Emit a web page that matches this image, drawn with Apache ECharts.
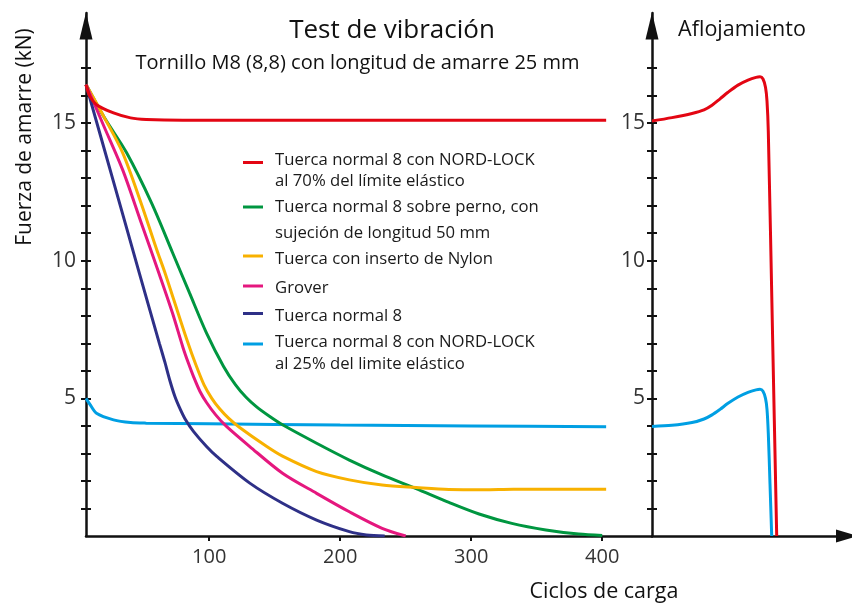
<!DOCTYPE html>
<html>
<head>
<meta charset="utf-8">
<script src="https://cdn.jsdelivr.net/npm/echarts@6/dist/echarts.min.js"></script>
<style>
html,body{margin:0;padding:0;background:#fff;}
#chart{width:852px;height:606px;}
</style>
</head>
<body>
<div id="chart"></div>
<script>
// ---- data ----
const yTickValues = [1,2,3,4,5,6,7,8,9,10,11,12,13,14,15,16,17];
const yLabelValues = [5,10,15];
const xTickValues = [100,200,300,400];

const seriesNames = [
  'Tuerca normal 8 con NORD-LOCK al 70% del límite elástico',
  'Tuerca normal 8 sobre perno, con sujeción de longitud 50 mm',
  'Tuerca con inserto de Nylon',
  'Grover',
  'Tuerca normal 8',
  'Tuerca normal 8 con NORD-LOCK al 25% del limite elástico'
];

// Test de vibración (x = ciclos de carga, y = kN)
const redVib = [[6,16.4],[9,15.97],[14,15.67],[27,15.37],[40,15.19],[52,15.13],[80,15.1],[150,15.1],[250,15.1],[350,15.1],[403,15.1]];
const greenVib = [[6,16.4],[20,15.2],[37,13.92],[56,12.1],[72,10.3],[85,8.83],[98,7.37],[111,6.16],[120,5.5],[128,5.05],[136,4.7],[146,4.35],[156,4.04],[182,3.37],[207,2.76],[232,2.22],[258,1.72],[283,1.22],[306,0.8],[331,0.46],[357,0.22],[382,0.07],[400,0.02]];
const yellowVib = [[6,16.4],[20,15.2],[34,13.92],[48,12.1],[60,10.4],[66,9.6],[73,8.58],[83,7.13],[90,6.2],[96,5.5],[102,5.0],[108,4.62],[115,4.27],[123,3.95],[144,3.25],[156,2.9],[182,2.34],[207,2.04],[232,1.85],[258,1.76],[283,1.69],[310,1.68],[332,1.7],[403,1.7]];
const pinkVib = [[6,16.4],[20,14.85],[34,13.3],[48,11.4],[62,9.5],[72,8.1],[80,6.85],[84,6.3],[88,5.8],[93,5.25],[98,4.85],[105,4.4],[113,3.99],[131,3.25],[156,2.28],[182,1.55],[207,0.88],[232,0.28],[250,0.0]];
const navyVib = [[6,16.4],[26,13.04],[46,9.67],[62,7.0],[66,6.35],[70,5.65],[74,5.05],[78,4.6],[82,4.22],[88,3.8],[98,3.25],[106,2.88],[131,1.92],[156,1.19],[182,0.58],[207,0.16],[220,0.04],[234,0.0]];
const cyanVib = [[6,5.0],[9,4.78],[14,4.46],[27,4.22],[40,4.12],[52,4.1],[100,4.08],[200,4.03],[300,4.0],[403,3.97]];

// Aflojamiento (x = relative progress, y = kN)
const redLoose = [[0,15.08],[20,15.2],[40,15.35],[52,15.48],[60,15.65],[68,15.88],[76,16.12],[86,16.38],[96,16.56],[104,16.66],[108,16.68],[111,16.6],[113.5,16.3],[115,15.8],[116.3,14.7],[120.5,7.4],[124.7,0]];
const cyanLoose = [[0,3.98],[20,4.02],[40,4.12],[52,4.25],[60,4.4],[68,4.6],[76,4.82],[86,5.05],[96,5.22],[104,5.31],[108,5.33],[111,5.26],[113.5,5.0],[115,4.6],[116.3,3.73],[118,1.9],[119.7,0]];

const colors = ['#e30613','#009640','#f8b100','#e5177e','#2e3087','#009fe3'];

// ---- chart ----
const chart = echarts.init(document.getElementById('chart'));
const FONT = '"Open Sans", "DejaVu Sans", sans-serif';
const AX = '#111';

function yAxisMain(grid, inside) {
  return {
    type:'value', gridIndex:grid, min:0, max:19, position:'left',
    splitLine:{show:false},
    axisLine:{show:!inside, lineStyle:{color:AX, width:2.5}, symbol:['none','triangle'], symbolSize:[13,27], symbolOffset:[0,-13]},
    axisTick:{show:true, inside:inside, length:5, customValues:yTickValues, lineStyle:{color:AX, width:2}},
    axisLabel:{show:!inside, customValues:yLabelValues, fontSize:21, color:'#333', fontFamily:FONT, margin: grid===0 ? 10 : 7}
  };
}

const lineSeries = (name, data, color, xi, yi) => ({
  name, type:'line', data, xAxisIndex:xi, yAxisIndex:yi,
  showSymbol:false, smooth:0.3,
  lineStyle:{color, width:3}, itemStyle:{color}, silent:true, animation:false
});

// legend graphic
const legendItems = [
  {c:colors[0], my:162.5, t:[['Tuerca normal 8 con NORD-LOCK',160],['al 70% del límite elástico',181]]},
  {c:colors[1], my:207, t:[['Tuerca normal 8 sobre perno, con',207],['sujeción de longitud 50 mm',233.5]]},
  {c:colors[2], my:256, t:[['Tuerca con inserto de Nylon',259.5]]},
  {c:colors[3], my:286, t:[['Grover',288.5]]},
  {c:colors[4], my:313.5, t:[['Tuerca normal 8',316]]},
  {c:colors[5], my:344, t:[['Tuerca normal 8 con NORD-LOCK',342.5],['al 25% del limite elástico',364]]}
];
const graphics = [];
legendItems.forEach(it => {
  graphics.push({type:'line', shape:{x1:243, y1:it.my, x2:263, y2:it.my}, style:{stroke:it.c, lineWidth:3}, silent:true});
  it.t.forEach(([txt,y]) => graphics.push({type:'text', x:275, y:y, style:{text:txt, fontSize:16.7, fontFamily:FONT, fill:'#1a1a1a', textVerticalAlign:'middle', textAlign:'left'}, silent:true}));
});
graphics.push({type:'text', x:392, y:31, style:{text:'Test de vibración', fontSize:26, fontFamily:FONT, fill:'#111', textAlign:'center', textVerticalAlign:'middle'}});
graphics.push({type:'text', x:357.5, y:63, style:{text:'Tornillo M8 (8,8) con longitud de amarre 25 mm', fontSize:20, fontFamily:FONT, fill:'#111', textAlign:'center', textVerticalAlign:'middle'}});
graphics.push({type:'text', x:742, y:30, style:{text:'Aflojamiento', fontSize:21.5, fontFamily:FONT, fill:'#111', textAlign:'center', textVerticalAlign:'middle'}});
graphics.push({type:'text', x:604, y:592, style:{text:'Ciclos de carga', fontSize:21.5, fontFamily:FONT, fill:'#111', textAlign:'center', textVerticalAlign:'middle'}});
graphics.push({type:'text', x:25, y:137, rotation:Math.PI/2, style:{text:'Fuerza de amarre (kN)', fontSize:21, fontFamily:FONT, fill:'#111', textAlign:'center', textVerticalAlign:'middle'}});

chart.setOption({
  backgroundColor:'#fff',
  animation:false,
  grid:[
    {left:86, right:200, top:13, bottom:70},
    {left:652, right:2, top:13, bottom:70}
  ],
  xAxis:[
    {type:'value', gridIndex:0, min:6, max:438, splitLine:{show:false},
     axisLine:{lineStyle:{color:AX, width:2.5}},
     axisTick:{show:true, length:5, customValues:xTickValues, lineStyle:{color:AX, width:2}},
     axisLabel:{customValues:xTickValues, fontSize:20, color:'#333', fontFamily:FONT, margin:11}},
    {type:'value', gridIndex:0, min:6, max:438, splitLine:{show:false},
     axisLine:{show:false},
     axisTick:{show:true, inside:true, length:5, customValues:xTickValues, lineStyle:{color:AX, width:2}},
     axisLabel:{show:false}},
    {type:'value', gridIndex:1, min:0, max:198, splitLine:{show:false},
     axisLine:{lineStyle:{color:AX, width:2.5}, symbol:['none','triangle'], symbolSize:[13,22], symbolOffset:[0,-3]},
     axisTick:{show:false}, axisLabel:{show:false}}
  ],
  yAxis:[ yAxisMain(0,false), yAxisMain(0,true), yAxisMain(1,false), yAxisMain(1,true) ],
  graphic: graphics,
  series:[
    lineSeries(seriesNames[5], cyanVib, colors[5], 0, 0),
    lineSeries(seriesNames[1], greenVib, colors[1], 0, 0),
    lineSeries(seriesNames[2], yellowVib, colors[2], 0, 0),
    lineSeries(seriesNames[3], pinkVib, colors[3], 0, 0),
    lineSeries(seriesNames[4], navyVib, colors[4], 0, 0),
    lineSeries(seriesNames[0], redVib, colors[0], 0, 0),
    lineSeries(seriesNames[5] + ' (aflojamiento)', cyanLoose, colors[5], 2, 2),
    lineSeries(seriesNames[0] + ' (aflojamiento)', redLoose, colors[0], 2, 2)
  ]
});
</script>
</body>
</html>
